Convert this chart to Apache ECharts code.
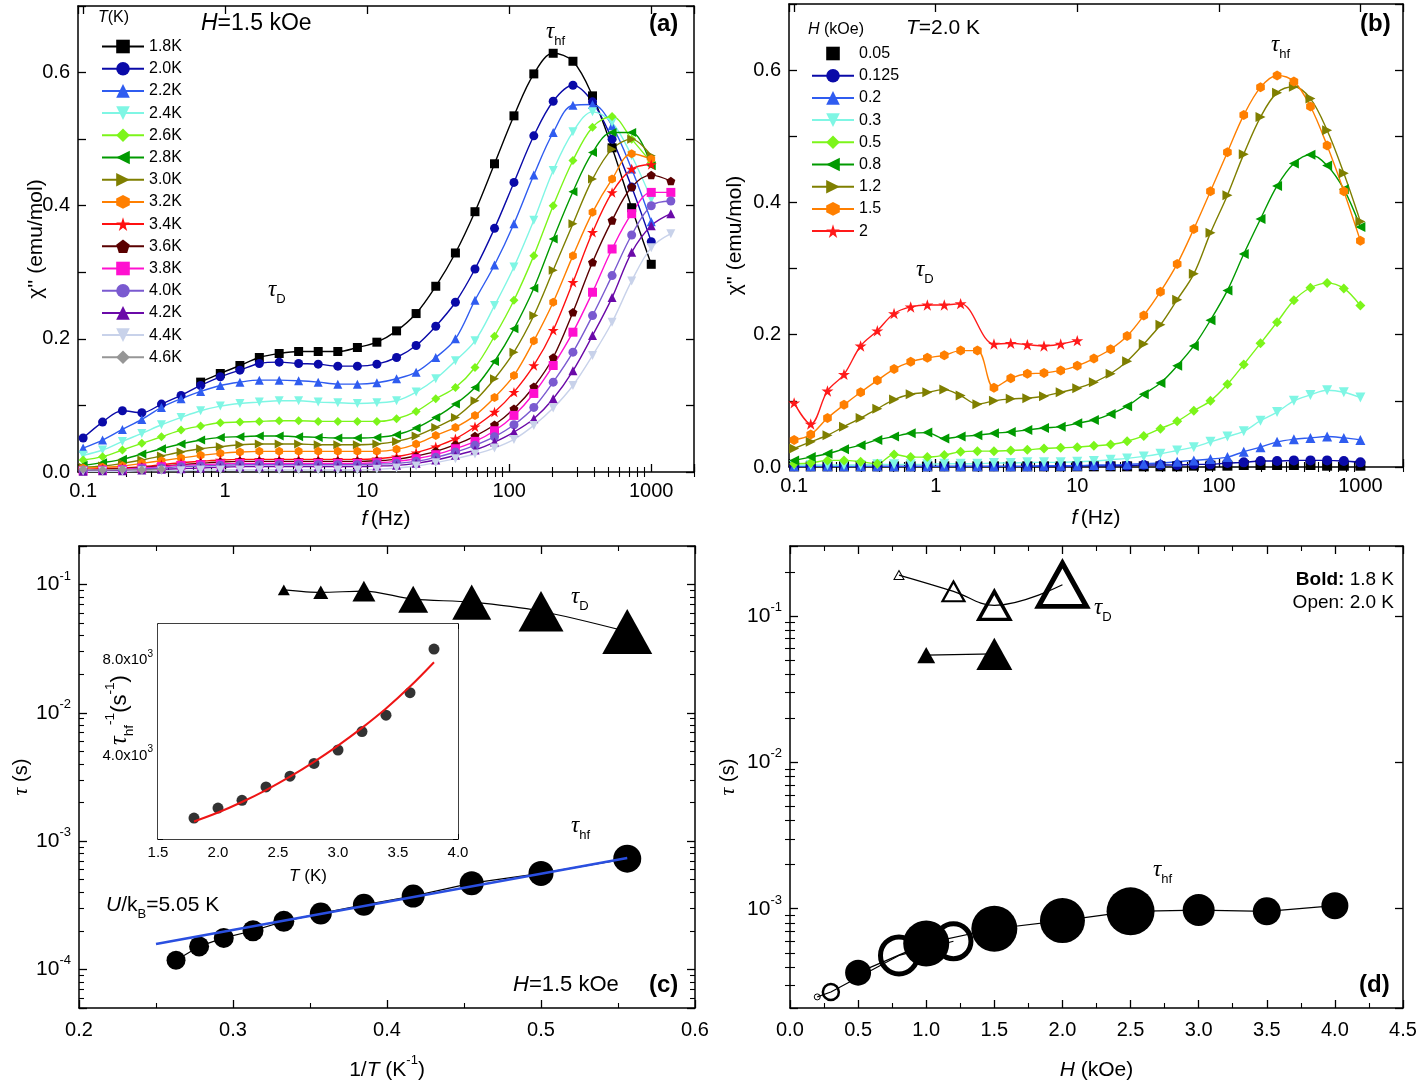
<!DOCTYPE html>
<html>
<head>
<meta charset="utf-8">
<script src="https://cdn.jsdelivr.net/npm/echarts@6/dist/echarts.min.js"></script>
<style>
  html, body { margin: 0; padding: 0; background: #fff; }
  #chart { width: 1422px; height: 1082px; }
</style>
</head>
<body>
<div id="chart"></div>
<script>
// ---- panel (a): chi'' vs f, H = 1.5 kOe ----
const freqA = [0.1, 0.137, 0.189, 0.259, 0.356, 0.489, 0.672, 0.924, 1.27, 1.74, 2.40, 3.29, 4.52, 6.21, 8.53,
  11.7, 16.1, 22.1, 30.4, 41.8, 57.4, 78.8, 108, 149, 204, 281, 386, 530, 728, 1000, 1374];
const namesA = ['1.8K', '2.0K', '2.2K', '2.4K', '2.6K', '2.8K', '3.0K', '3.2K', '3.4K', '3.6K', '3.8K', '4.0K', '4.2K', '4.4K', '4.6K'];
const chi18 = [null, null, null, null, null, null, 0.135, 0.148, 0.160, 0.172, 0.178, 0.181, 0.181, 0.181, 0.187, 0.195,
  0.212, 0.238, 0.279, 0.329, 0.391, 0.463, 0.535, 0.598, 0.629, 0.617, 0.565, 0.487, 0.397, 0.312, null];
const chi20 = [0.051, 0.075, 0.092, 0.089, 0.102, 0.115, 0.130, 0.143, 0.153, 0.163, 0.165, 0.163, 0.162, 0.159, 0.159,
  0.162, 0.172, 0.190, 0.219, 0.255, 0.305, 0.366, 0.435, 0.505, 0.557, 0.581, 0.556, 0.500, 0.428, 0.346, null];
const chi22 = [0.036, 0.048, 0.064, 0.079, 0.097, 0.110, 0.121, 0.130, 0.135, 0.138, 0.138, 0.137, 0.135, 0.132, 0.132,
  0.134, 0.140, 0.150, 0.172, 0.200, 0.258, 0.311, 0.373, 0.446, 0.510, 0.551, 0.552, 0.520, 0.455, 0.376, null];
const chi24 = [0.025, 0.033, 0.046, 0.058, 0.071, 0.082, 0.092, 0.099, 0.103, 0.105, 0.107, 0.107, 0.105, 0.104, 0.103,
  0.104, 0.107, 0.120, 0.140, 0.167, 0.197, 0.250, 0.308, 0.378, 0.453, 0.511, 0.541, 0.525, 0.475, 0.410, null];
const chi26 = [0.018, 0.023, 0.033, 0.043, 0.053, 0.063, 0.069, 0.074, 0.075, 0.076, 0.077, 0.077, 0.076, 0.076, 0.076,
  0.076, 0.080, 0.091, 0.110, 0.127, 0.157, 0.204, 0.258, 0.325, 0.400, 0.468, 0.518, 0.534, 0.500, 0.465, null];
const chi28 = [0.010, 0.014, 0.019, 0.027, 0.035, 0.042, 0.048, 0.052, 0.053, 0.054, 0.054, 0.053, 0.052, 0.051, 0.051,
  0.052, 0.056, 0.066, 0.082, 0.102, 0.127, 0.166, 0.215, 0.276, 0.350, 0.421, 0.480, 0.510, 0.510, 0.460, null];
const chi30 = [0.007, 0.009, 0.013, 0.018, 0.024, 0.030, 0.035, 0.038, 0.041, 0.042, 0.042, 0.042, 0.041, 0.041, 0.041,
  0.042, 0.046, 0.054, 0.067, 0.082, 0.107, 0.140, 0.180, 0.235, 0.303, 0.373, 0.440, 0.485, 0.500, 0.475, null];
const chi32 = [0.006, 0.007, 0.009, 0.013, 0.017, 0.021, 0.025, 0.028, 0.030, 0.031, 0.031, 0.031, 0.031, 0.031, 0.031,
  0.031, 0.034, 0.042, 0.055, 0.067, 0.085, 0.112, 0.145, 0.197, 0.255, 0.325, 0.390, 0.440, 0.478, 0.470, null];
const chi34 = [0.004, 0.005, 0.006, 0.008, 0.011, 0.014, 0.016, 0.018, 0.019, 0.019, 0.019, 0.019, 0.019, 0.019, 0.019,
  0.020, 0.023, 0.029, 0.038, 0.050, 0.068, 0.090, 0.120, 0.160, 0.213, 0.285, 0.360, 0.420, 0.455, 0.462, null];
const chi36 = [0.003, 0.004, 0.005, 0.007, 0.009, 0.011, 0.013, 0.015, 0.016, 0.016, 0.016, 0.016, 0.016, 0.016, 0.016,
  0.017, 0.019, 0.024, 0.031, 0.041, 0.054, 0.071, 0.095, 0.128, 0.172, 0.240, 0.315, 0.378, 0.428, 0.446, 0.437];
const chi38 = [0.002, 0.003, 0.004, 0.006, 0.008, 0.010, 0.011, 0.012, 0.013, 0.013, 0.013, 0.013, 0.013, 0.013, 0.013,
  0.014, 0.016, 0.020, 0.026, 0.035, 0.046, 0.062, 0.085, 0.118, 0.160, 0.210, 0.270, 0.335, 0.388, 0.420, 0.420];
const chi40 = [0.002, 0.002, 0.003, 0.005, 0.006, 0.008, 0.009, 0.010, 0.011, 0.011, 0.011, 0.011, 0.011, 0.011, 0.011,
  0.012, 0.013, 0.016, 0.022, 0.030, 0.040, 0.053, 0.071, 0.097, 0.135, 0.180, 0.235, 0.295, 0.356, 0.400, 0.407];
const chi42 = [0.001, 0.002, 0.002, 0.003, 0.004, 0.005, 0.006, 0.007, 0.008, 0.008, 0.008, 0.008, 0.008, 0.008, 0.008,
  0.009, 0.010, 0.013, 0.018, 0.025, 0.033, 0.045, 0.060, 0.080, 0.110, 0.152, 0.205, 0.262, 0.330, 0.370, 0.388];
const chi44 = [0.001, 0.001, 0.001, 0.002, 0.002, 0.002, 0.003, 0.003, 0.003, 0.003, 0.003, 0.003, 0.003, 0.003, 0.003,
  0.004, 0.006, 0.009, 0.014, 0.020, 0.027, 0.036, 0.049, 0.070, 0.096, 0.130, 0.175, 0.225, 0.287, 0.337, 0.358];
const chi46 = [0.004, 0.003, 0.004, 0.003, 0.004];

// ---- panel (b): chi'' vs f, T = 2.0 K ----
const freqB = [0.1, 0.131, 0.172, 0.225, 0.295, 0.387, 0.508, 0.666, 0.873, 1.15, 1.50, 1.97, 2.58, 3.39, 4.44, 5.82,
  7.64, 10.0, 13.1, 17.2, 22.5, 29.5, 38.7, 50.8, 66.6, 87.3, 115, 150, 197, 258, 339, 444, 582, 764, 1000];
const namesB = ['0.05', '0.125', '0.2', '0.3', '0.5', '0.8', '1.2', '1.5', '2'];
const chiB005 = [0.001, 0.001, 0.001, 0.001, 0.001, 0.001, 0.001, 0.001, 0.001, 0.001, 0.001, 0.001, 0.001, 0.001, 0.001,
  0.001, 0.001, 0.001, 0.001, 0.001, 0.001, 0.001, 0.001, 0.001, 0.002, 0.002, 0.002, 0.003, 0.003, 0.003, 0.003, 0.003,
  0.002, 0.002, 0.002];
const chiB0125 = [0.001, 0.001, 0.001, 0.001, 0.001, 0.001, 0.001, 0.001, 0.001, 0.001, 0.001, 0.001, 0.001, 0.001, 0.001,
  0.001, 0.001, 0.002, 0.002, 0.002, 0.002, 0.003, 0.003, 0.003, 0.004, 0.004, 0.006, 0.007, 0.009, 0.009, 0.010, 0.010,
  0.010, 0.009, 0.007];
const chiB02 = [0.001, 0.001, 0.001, 0.001, 0.001, 0.001, 0.001, 0.001, 0.001, 0.001, 0.001, 0.001, 0.001, 0.001, 0.001,
  0.002, 0.002, 0.002, 0.003, 0.003, 0.004, 0.005, 0.006, 0.008, 0.010, 0.012, 0.015, 0.023, 0.030, 0.038, 0.042, 0.044,
  0.046, 0.044, 0.041];
const chiB03 = [0.003, 0.003, 0.003, 0.003, 0.003, 0.004, 0.004, 0.004, 0.004, 0.005, 0.005, 0.005, 0.006, 0.006, 0.007,
  0.007, 0.007, 0.008, 0.009, 0.011, 0.013, 0.016, 0.020, 0.025, 0.030, 0.038, 0.046, 0.054, 0.070, 0.083, 0.100, 0.109,
  0.116, 0.113, 0.105];
const chiB05 = [0.005, 0.006, 0.010, 0.010, 0.008, 0.005, 0.019, 0.015, 0.015, 0.018, 0.023, 0.024, 0.024, 0.025, 0.026,
  0.028, 0.029, 0.030, 0.032, 0.034, 0.039, 0.047, 0.058, 0.069, 0.085, 0.100, 0.125, 0.155, 0.187, 0.219, 0.252, 0.271,
  0.278, 0.270, 0.244];
const chiB08 = [0.010, 0.015, 0.020, 0.027, 0.033, 0.041, 0.046, 0.051, 0.052, 0.043, 0.046, 0.048, 0.051, 0.053, 0.056,
  0.059, 0.061, 0.066, 0.071, 0.080, 0.092, 0.110, 0.127, 0.153, 0.183, 0.222, 0.267, 0.322, 0.375, 0.425, 0.459, 0.472,
  0.456, 0.420, 0.363];
const chiB12 = [0.028, 0.038, 0.048, 0.061, 0.074, 0.088, 0.102, 0.110, 0.113, 0.117, 0.108, 0.095, 0.100, 0.103, 0.104,
  0.107, 0.113, 0.119, 0.128, 0.141, 0.160, 0.186, 0.215, 0.253, 0.292, 0.354, 0.411, 0.473, 0.529, 0.566, 0.575, 0.557,
  0.509, 0.444, 0.371];
const chiB15 = [0.041, 0.049, 0.074, 0.094, 0.113, 0.131, 0.148, 0.159, 0.165, 0.169, 0.176, 0.176, 0.120, 0.134, 0.141,
  0.142, 0.146, 0.153, 0.164, 0.178, 0.198, 0.229, 0.265, 0.307, 0.360, 0.417, 0.476, 0.532, 0.574, 0.592, 0.583, 0.545,
  0.486, 0.417, 0.342];
const chiB20 = [0.097, 0.065, 0.115, 0.140, 0.183, 0.206, 0.232, 0.242, 0.245, 0.245, 0.247, null, 0.186, 0.187, 0.185,
  0.183, 0.186, 0.191];

// ---- panel (c): tau vs 1/T, H = 1.5 kOe ----
const invTD = [0.333, 0.357, 0.385, 0.417, 0.455, 0.500, 0.556];
const tauDc = [0.091, 0.087, 0.089, 0.077, 0.073, 0.062, 0.043];
const invTHf = [0.263, 0.278, 0.294, 0.313, 0.333, 0.357, 0.385, 0.417, 0.455, 0.500, 0.556];
const tauHfc = [1.18e-4, 1.51e-4, 1.76e-4, 2.0e-4, 2.37e-4, 2.73e-4, 3.19e-4, 3.73e-4, 4.7e-4, 5.6e-4, 7.3e-4];
const fitInvT = [0.25, 0.556];
const fitTau = [1.58e-4, 7.4e-4];
// inset: tau_hf^-1 vs T
const insetT = [1.8, 2.0, 2.2, 2.4, 2.6, 2.8, 3.0, 3.2, 3.4, 3.6, 3.8];
const insetRate = [1375, 1796, 2119, 2681, 3130, 3663, 4225, 4996, 5684, 6625, 8450];
const insetFit = [1235, 1610, 2050, 2550, 3110, 3730, 4410, 5150, 5960, 6880, 7900];

// ---- panel (d): tau vs H ----
const hHfBold = [0.5, 1.0, 1.5, 2.0, 2.5, 3.0, 3.5, 4.0];
const tauHfBold = [3.66e-4, 5.8e-4, 7.3e-4, 8.3e-4, 9.6e-4, 9.8e-4, 9.6e-4, 1.05e-3];
const hHfOpen = [0.2, 0.3, 0.8, 1.2];
const tauHfOpen = [2.5e-4, 2.7e-4, 4.8e-4, 6.0e-4];
const hDOpen = [0.8, 1.2, 1.5, 2.0];
const tauDOpen = [0.19, 0.147, 0.118, 0.163];
const hDBold = [1.0, 1.5];
const tauDBold = [0.054, 0.055];

// ---- styles ----
const FONT = '"Liberation Sans", Arial, sans-serif';
const SERIF = '"Liberation Serif", "DejaVu Serif", serif';
const colorsA = ['#000000', '#0a0aa8', '#2f5cf0', '#7ff6e4', '#7cf51a', '#009a00', '#7f7f00', '#ff7f00',
  '#ff1010', '#5a0000', '#ff10d0', '#7a5ad0', '#6a0aa8', '#c8d2ea', '#969696'];
const symA = ['rect', 'circle', 'triangle', 'triangle', 'diamond', 'triangle', 'triangle', 'hexagon', 'star', 'pentagon',
  'rect', 'circle', 'triangle', 'triangle', 'diamond'];
const rotA = [0, 0, 0, 180, 0, 90, -90, 0, 0, 0, 0, 0, 0, 180, 0];
const colorsB = ['#000000', '#0a0aa8', '#2f5cf0', '#7ff6e4', '#7cf51a', '#009a00', '#7f7f00', '#ff7f00', '#ff1a1a'];
const PATHS = {
  hexagon: 'path://M5,0 L9.33,2.5 L9.33,7.5 L5,10 L0.67,7.5 L0.67,2.5 Z',
  star: 'path://M10,0 L12.245,6.91 L19.51,6.91 L13.63,11.18 L15.88,18.09 L10,13.82 L4.12,18.09 L6.37,11.18 L0.49,6.91 L7.755,6.91 Z',
  pentagon: 'path://M10,0 L19.51,6.91 L15.88,18.09 L4.12,18.09 L0.49,6.91 Z'
};
const sym = s => PATHS[s] || s;

function richSet(size) {
  const base = { color: '#000', fontFamily: FONT, fontSize: size, lineHeight: size * 1.5 };
  return {
    n: base,
    i: Object.assign({}, base, { fontStyle: 'italic' }),
    b: Object.assign({}, base, { fontWeight: 'bold' }),
    t: Object.assign({}, base, { fontFamily: SERIF, fontStyle: 'italic', fontSize: size * 1.1 }),
    s: { color: '#000', fontFamily: FONT, fontSize: size * 0.62, lineHeight: size * 0.62, verticalAlign: 'bottom' },
    e: { color: '#000', fontFamily: FONT, fontSize: size * 0.62, lineHeight: size * 0.62, verticalAlign: 'top' }
  };
}

// minor tick positions (log10 space) for a log axis spanning lo..hi
function logMinor(lo, hi) {
  const out = [];
  for (let e = Math.floor(Math.log10(lo)); e <= Math.ceil(Math.log10(hi)); e++) {
    for (let m = 2; m <= 9; m++) {
      const v = m * Math.pow(10, e);
      if (v >= lo && v <= hi) out.push(Math.log10(v));
    }
  }
  return out;
}

const isPow10 = v => Math.abs(Math.log10(v) - Math.round(Math.log10(v))) < 0.01;
const freqLabel = v => isPow10(v) ? String(+v.toPrecision(2)) : '';
const powLabel = v => isPow10(v) ? '{b|10}{e|' + Math.round(Math.log10(v)) + '}' : '';
const labelRich = {
  b: { fontFamily: FONT, fontSize: 21, lineHeight: 30, color: '#000' },
  e: { fontFamily: FONT, fontSize: 13, lineHeight: 13, verticalAlign: 'top', color: '#000' }
};

function frameAxis(grid, pos, o) {
  return Object.assign({
    gridIndex: grid, position: pos, type: 'value', nameMoveOverlap: false,
    axisLine: { show: true, onZero: false, lineStyle: { color: '#000', width: 1.5 } },
    axisTick: { show: true, inside: true, length: 8, lineStyle: { color: '#000', width: 1.3 } },
    axisLabel: { show: false },
    splitLine: { show: false }
  }, o);
}
function minorAxis(grid, pos, lo, hi) {
  return {
    gridIndex: grid, position: pos, type: 'value',
    min: Math.log10(lo), max: Math.log10(hi),
    axisLine: { show: false },
    axisTick: { show: true, inside: true, length: 5, customValues: logMinor(lo, hi), lineStyle: { color: '#000', width: 1.1 } },
    axisLabel: { show: false },
    splitLine: { show: false }
  };
}
const lab = (formatter, extra) => Object.assign({
  show: true, color: '#000', fontFamily: FONT, fontSize: 20, margin: 9, formatter, rich: labelRich
}, extra || {});
const minorVal = { show: true, splitNumber: 2, length: 5, lineStyle: { color: '#000', width: 1.1 } };

const FA = [0.092, 2000];
const YC = [5e-5, 0.2];
const YD = [2.1e-4, 0.3];
const chiFmt = v => (Math.round(v * 10) % 2 === 0 && v < 0.65) ? v.toFixed(1) : '';

const xAxis = [
  frameAxis(0, 'bottom', { type: 'log', min: FA[0], max: FA[1], axisLabel: lab(freqLabel),
    name: '{i|f} {n|(Hz)}', nameLocation: 'middle', nameGap: 31, nameTextStyle: { rich: richSet(21) } }),
  minorAxis(0, 'bottom', FA[0], FA[1]),
  frameAxis(0, 'top', { type: 'log', min: FA[0], max: FA[1] }),
  minorAxis(0, 'top', FA[0], FA[1]),
  frameAxis(1, 'bottom', { type: 'log', min: FA[0], max: FA[1], axisLabel: lab(freqLabel),
    name: '{i|f} {n|(Hz)}', nameLocation: 'middle', nameGap: 35, nameTextStyle: { rich: richSet(21) } }),
  minorAxis(1, 'bottom', FA[0], FA[1]),
  frameAxis(1, 'top', { type: 'log', min: FA[0], max: FA[1] }),
  minorAxis(1, 'top', FA[0], FA[1]),
  frameAxis(2, 'bottom', { min: 0.2, max: 0.6, interval: 0.1, axisLabel: lab(v => v.toFixed(1), { margin: 12 }),
    minorTick: minorVal,
    name: '{n|1/}{i|T}{n| (K}{e|-1}{n|)}', nameLocation: 'middle', nameGap: 46, nameTextStyle: { rich: richSet(21) } }),
  frameAxis(2, 'top', { min: 0.2, max: 0.6, interval: 0.1, minorTick: minorVal }),
  frameAxis(3, 'bottom', { min: 0, max: 4.5, interval: 0.5, axisLabel: lab(v => v.toFixed(1), { margin: 12 }),
    minorTick: minorVal,
    name: '{i|H}{n| (kOe)}', nameLocation: 'middle', nameGap: 46, nameTextStyle: { rich: richSet(21) } }),
  frameAxis(3, 'top', { min: 0, max: 4.5, interval: 0.5, minorTick: minorVal }),
  frameAxis(4, 'bottom', { min: 1.5, max: 4.0, interval: 0.5,
    axisLabel: lab(v => v.toFixed(1), { fontSize: 15, margin: 6 }),
    axisTick: { show: true, inside: true, length: 5, lineStyle: { color: '#000' } },
    name: '{i|T}{n| (K)}', nameLocation: 'middle', nameGap: 25, nameTextStyle: { rich: richSet(17) } }),
  frameAxis(4, 'top', { min: 1.5, max: 4.0, interval: 0.5,
    axisTick: { show: true, inside: true, length: 5, lineStyle: { color: '#000' } } })
];

const yAxis = [
  frameAxis(0, 'left', { min: 0, max: 0.7, interval: 0.1, axisLabel: lab(chiFmt, { margin: 8 }),
    name: '{n|\u03c7\'\' (emu/mol)}', nameLocation: 'middle', nameRotate: 90, nameGap: 26,
    nameTextStyle: { rich: richSet(21) } }),
  frameAxis(0, 'right', { min: 0, max: 0.7, interval: 0.1 }),
  frameAxis(1, 'left', { min: 0, max: 0.7, interval: 0.1, axisLabel: lab(chiFmt, { margin: 8 }),
    name: '{n|\u03c7\'\' (emu/mol)}', nameLocation: 'middle', nameRotate: 90, nameGap: 38,
    nameTextStyle: { rich: richSet(21) } }),
  frameAxis(1, 'right', { min: 0, max: 0.7, interval: 0.1 }),
  frameAxis(2, 'left', { type: 'log', min: YC[0], max: YC[1], axisLabel: lab(powLabel, { margin: 8 }),
    name: '{t|\u03c4}{n| (s)}', nameLocation: 'middle', nameRotate: 90, nameGap: 43,
    nameTextStyle: { rich: richSet(20) } }),
  minorAxis(2, 'left', YC[0], YC[1]),
  frameAxis(2, 'right', { type: 'log', min: YC[0], max: YC[1] }),
  minorAxis(2, 'right', YC[0], YC[1]),
  frameAxis(3, 'left', { type: 'log', min: YD[0], max: YD[1], axisLabel: lab(powLabel, { margin: 8 }),
    name: '{t|\u03c4}{n| (s)}', nameLocation: 'middle', nameRotate: 90, nameGap: 47,
    nameTextStyle: { rich: richSet(20) } }),
  minorAxis(3, 'left', YD[0], YD[1]),
  frameAxis(3, 'right', { type: 'log', min: YD[0], max: YD[1] }),
  minorAxis(3, 'right', YD[0], YD[1]),
  frameAxis(4, 'left', { min: 500, max: 9500,
    axisTick: { show: true, inside: true, length: 5, lineStyle: { color: '#000' } },
    axisLabel: lab(v => (v === 4000 || v === 8000) ? '{b|' + (v / 1000).toFixed(1) + 'x10}{e|3}' : '',
      { margin: 5, rich: {
        b: { fontFamily: FONT, fontSize: 15, lineHeight: 22, color: '#000' },
        e: { fontFamily: FONT, fontSize: 10, lineHeight: 10, verticalAlign: 'top', color: '#000' } } }) }),
  frameAxis(4, 'right', { min: 500, max: 9500,
    axisTick: { show: true, inside: true, length: 5, lineStyle: { color: '#000' } } })
];

const grid = [
  { left: 78, top: 6, width: 616, height: 466 },
  { left: 789, top: 4, width: 614, height: 463 },
  { left: 79, top: 546, width: 616, height: 462 },
  { left: 790, top: 546, width: 613, height: 462 },
  { left: 158, top: 624, width: 300, height: 215, show: true, backgroundColor: '#fff', borderWidth: 0, z: 3 }
].map(g => Object.assign({ containLabel: false }, g));

const chiA = [chi18, chi20, chi22, chi24, chi26, chi28, chi30, chi32, chi34, chi36, chi38, chi40, chi42, chi44, chi46];
const chiB = [chiB005, chiB0125, chiB02, chiB03, chiB05, chiB08, chiB12, chiB15, chiB20];

const series = [];
namesA.forEach((name, s) => {
  series.push({
    name, type: 'line', xAxisIndex: 0, yAxisIndex: 0,
    data: chiA[s].map((v, i) => [freqA[i], v]),
    smooth: 0.35, showAllSymbol: true,
    symbol: sym(symA[s]), symbolRotate: rotA[s], symbolSize: symA[s] === 'star' ? 11 : 9, symbolKeepAspect: true,
    itemStyle: { color: colorsA[s] }, lineStyle: { color: colorsA[s], width: 1.4 }
  });
});
namesB.forEach((name, s) => {
  series.push({
    name, type: 'line', xAxisIndex: 4, yAxisIndex: 2,
    data: chiB[s].map((v, i) => [freqB[i], v]),
    smooth: 0.35, showAllSymbol: true, connectNulls: true,
    symbol: sym(symA[s]), symbolRotate: rotA[s], symbolSize: symA[s] === 'star' ? 12 : 10, symbolKeepAspect: true,
    itemStyle: { color: colorsB[s] }, lineStyle: { color: colorsB[s], width: s === 0 ? 0 : 1.4 }
  });
});

// panel (c)
const triC = [12, 15, 23, 30, 39, 45, 50];
const circC = [19, 20, 20, 21, 21, 22, 22, 23, 24, 25, 28];
series.push({
  type: 'line', xAxisIndex: 8, yAxisIndex: 4, smooth: 0.3,
  data: invTD.map((x, i) => [x, tauDc[i]]),
  symbol: 'triangle', symbolSize: (v, p) => [triC[p.dataIndex], triC[p.dataIndex] * 0.9],
  itemStyle: { color: '#000' }, lineStyle: { color: '#000', width: 1.2 }
});
series.push({
  type: 'line', xAxisIndex: 8, yAxisIndex: 4,
  data: invTHf.map((x, i) => [x, tauHfc[i]]),
  symbol: 'circle', symbolSize: (v, p) => circC[p.dataIndex],
  itemStyle: { color: '#000' }, lineStyle: { color: '#000', width: 1.2 }
});
series.push({
  type: 'line', xAxisIndex: 8, yAxisIndex: 4, z: 4, showSymbol: false,
  data: fitInvT.map((x, i) => [x, fitTau[i]]),
  lineStyle: { color: '#2a4fe0', width: 2.5 }
});
// inset
series.push({
  type: 'scatter', xAxisIndex: 12, yAxisIndex: 12, z: 5,
  data: insetT.map((x, i) => [x, insetRate[i]]),
  symbol: 'circle', symbolSize: 11, itemStyle: { color: '#000' }
});
series.push({
  type: 'line', xAxisIndex: 12, yAxisIndex: 12, z: 6, smooth: 0.4, showSymbol: false,
  data: insetT.map((x, i) => [x, insetFit[i]]),
  lineStyle: { color: '#ee1515', width: 2 }
});

// panel (d)
const openHfSize = [6, 16, 37, 35];
const openHfBorder = [1, 2.5, 5, 5];
const boldHfSize = [26, 46, 46, 45, 48, 32, 28, 27];
const openDSize = [10, 22, 31, 48];
const openDBorder = [1, 2.2, 3.5, 5];
const boldDSize = [18, 36];
series.push({
  type: 'line', xAxisIndex: 10, yAxisIndex: 8, smooth: 0.4,
  data: hDOpen.map((x, i) => ({ value: [x, tauDOpen[i]], itemStyle: { borderWidth: openDBorder[i] } })),
  symbol: 'triangle', symbolSize: (v, p) => [openDSize[p.dataIndex], openDSize[p.dataIndex] * 0.9],
  itemStyle: { color: 'rgba(255,255,255,0)', borderColor: '#000' }, lineStyle: { color: '#000', width: 1.2 }
});
series.push({
  type: 'line', xAxisIndex: 10, yAxisIndex: 8,
  data: hDBold.map((x, i) => [x, tauDBold[i]]),
  symbol: 'triangle', symbolSize: (v, p) => [boldDSize[p.dataIndex], boldDSize[p.dataIndex] * 0.9],
  itemStyle: { color: '#000' }, lineStyle: { color: '#000', width: 1.2 }
});
series.push({
  type: 'line', xAxisIndex: 10, yAxisIndex: 8,
  data: hHfOpen.map((x, i) => ({ value: [x, tauHfOpen[i]], itemStyle: { borderWidth: openHfBorder[i] } })),
  symbol: 'circle', symbolSize: (v, p) => openHfSize[p.dataIndex],
  itemStyle: { color: 'rgba(255,255,255,0)', borderColor: '#000' }, lineStyle: { color: '#000', width: 1.2 }
});
series.push({
  type: 'line', xAxisIndex: 10, yAxisIndex: 8,
  data: hHfBold.map((x, i) => [x, tauHfBold[i]]),
  symbol: 'circle', symbolSize: (v, p) => boldHfSize[p.dataIndex],
  itemStyle: { color: '#000' }, lineStyle: { color: '#000', width: 1.2 }
});

// annotations
function txt(x, y, text, size, align, rotation) {
  return { type: 'text', x, y, z: 10, rotation: rotation || 0,
    style: { text, rich: richSet(size), align: align || 'left', verticalAlign: 'middle' } };
}
const tauHf = '{t|\u03c4}{s|hf}';
const tauD = '{t|\u03c4}{s|D}';
const graphic = [
  txt(98, 18, '{i|T}{n|(K)}', 16),
  txt(201, 24, '{i|H}{n|=1.5 kOe}', 23),
  txt(546, 32, tauHf, 21),
  txt(649, 24, '{b|(a)}', 24),
  txt(268, 290, tauD, 21),
  txt(808, 30, '{i|H}{n| (kOe)}', 16),
  txt(906, 28, '{i|T}{n|=2.0 K}', 21),
  txt(1271, 45, tauHf, 21),
  txt(1360, 24, '{b|(b)}', 24),
  txt(916, 270, tauD, 21),
  txt(571, 597, tauD, 21),
  txt(571, 826, tauHf, 21),
  txt(106, 905, '{i|U}{n|/k}{s|B}{n|=5.05 K}', 21),
  txt(513, 985, '{i|H}{n|=1.5 kOe}', 22),
  txt(649, 985, '{b|(c)}', 24),
  txt(1394, 580, '{b|Bold:}{n| 1.8 K}', 19, 'right'),
  txt(1394, 603, '{n|Open: 2.0 K}', 19, 'right'),
  txt(1094, 608, tauD, 21),
  txt(1153, 870, tauHf, 21),
  txt(1359, 985, '{b|(d)}', 24),
  // inset y-axis title
  Object.assign(txt(120, 710, '{t|\u03c4}{s|hf}{e|-1}{n|(s}{e|-1}{n|)}', 22, 'center', Math.PI / 2), { z: 20 })
];

const legendBase = {
  orient: 'vertical', itemWidth: 42, itemHeight: 17, itemGap: 5.2, selectedMode: false,
  textStyle: { fontFamily: FONT, fontSize: 16, color: '#000', lineHeight: 17 }
};

const chart = echarts.init(document.getElementById('chart'), null, { renderer: 'canvas' });
chart.setOption({
  backgroundColor: '#fff',
  animation: false,
  grid, xAxis, yAxis, series, graphic,
  legend: [
    Object.assign({ data: namesA, left: 96, top: 33 }, legendBase),
    Object.assign({ data: namesB, left: 806, top: 40 }, legendBase)
  ]
});
</script>
</body>
</html>
